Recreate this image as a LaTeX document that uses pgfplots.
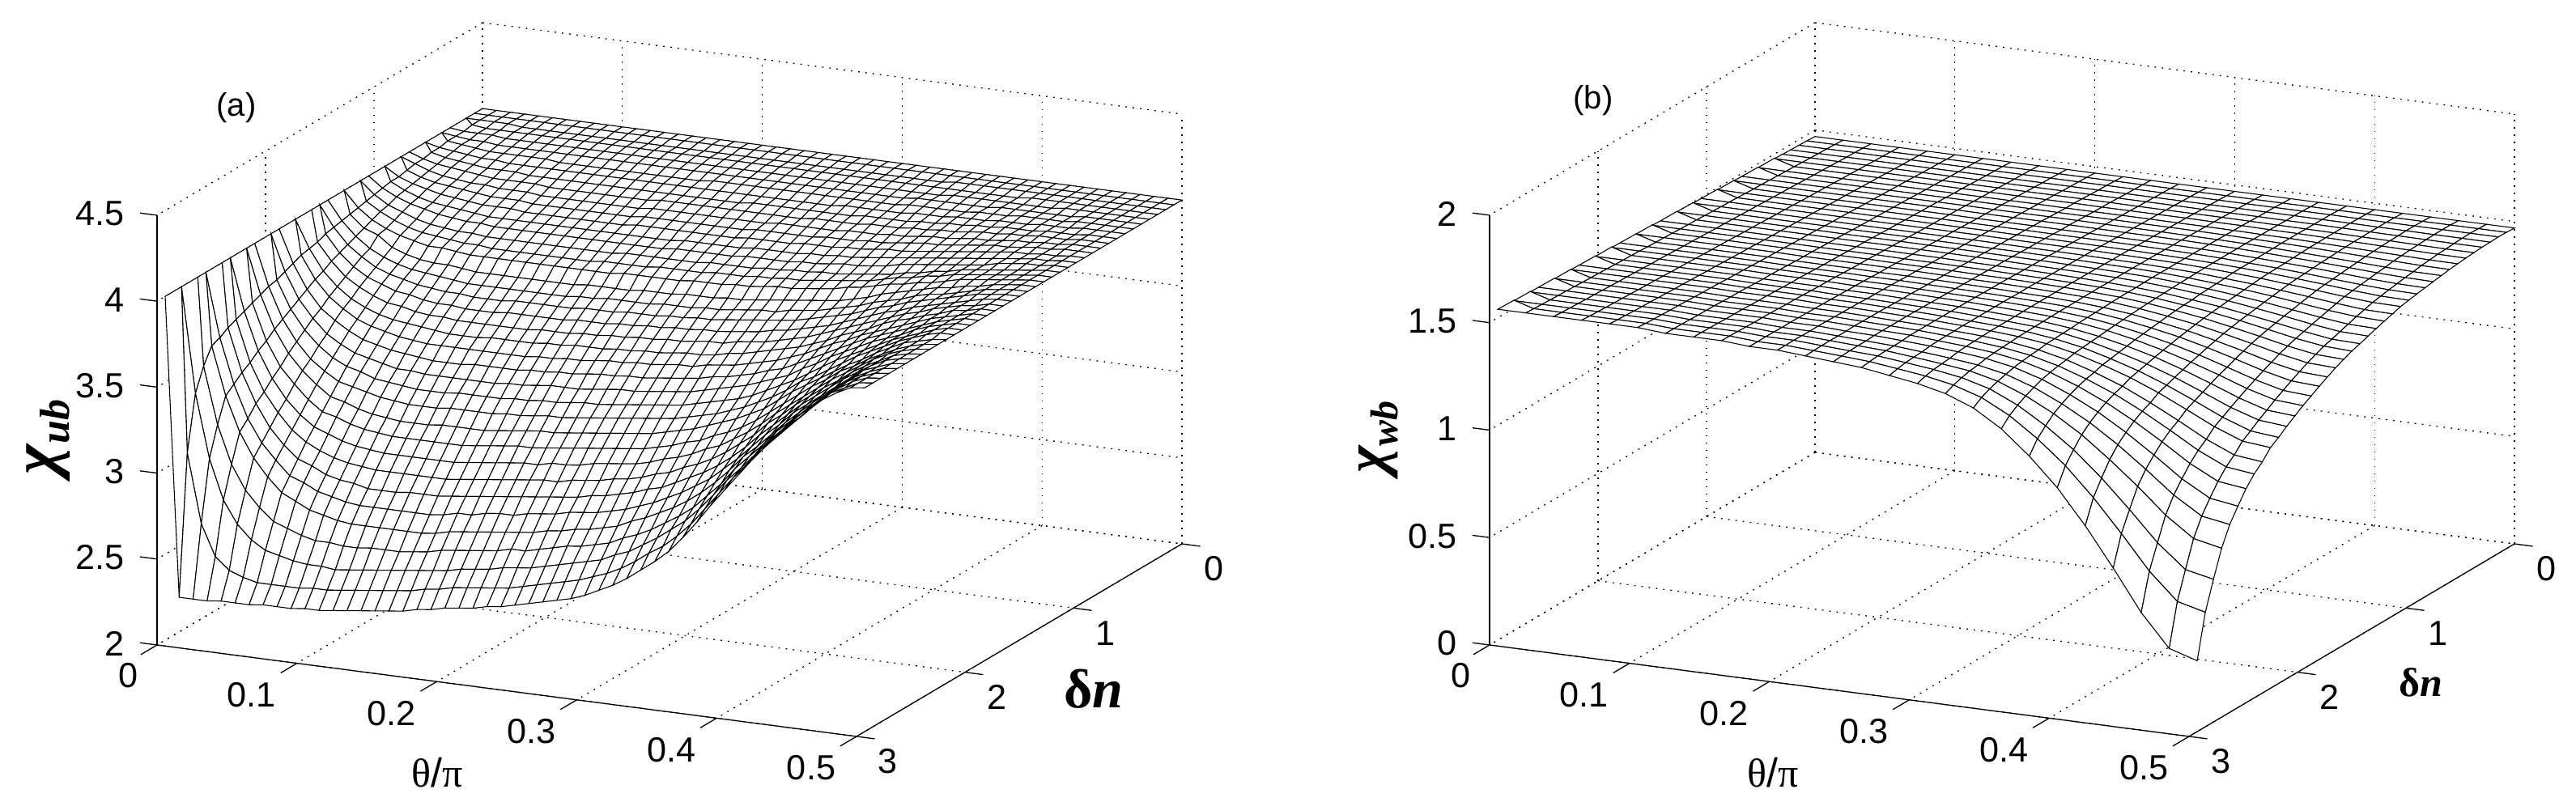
\documentclass[border=0pt]{standalone}
\usepackage{pgfplots}
\pgfplotsset{compat=1.18}
\usepackage{fontspec}
\setmainfont{Liberation Sans}
\newfontfamily\symb{Liberation Serif}
\newcommand{\tfont}{\fontsize{10.8}{12}\selectfont}
% 1 px of the reference = 0.25pt
\pgfplotsset{
  meshbox/.style={
    hide axis, clip=false,
    x={(432pt,-56.5pt)}, y={(-33.5pt,-19.83pt)},
    xmin=0, xmax=0.5, ymin=0, ymax=3,
  },
  whitemesh/.style={
    surf, shader=faceted, z buffer=none,
    colormap={w}{color=(white) color=(white)},
    faceted color=black, line width=0.27pt,
  },
}
\tikzset{
  griddot/.style={black, line width=0.33pt, dash pattern=on 0.45pt off 1.8pt},
  axline/.style={black, line width=0.33pt},
}
% #1 zmin, #2 zmax, #3 list of z ticks
\newcommand{\frameit}[3]{%
  \pgfplotsinvokeforeach{0,0.1,0.2,0.3,0.4,0.5}{
    \draw[griddot] (axis cs:##1,0,#1) -- (axis cs:##1,3,#1);
    \draw[griddot] (axis cs:##1,0,#1) -- (axis cs:##1,0,#2);
    \draw[axline] (axis cs:##1,3,#1) -- (axis cs:##1,3.15,#1);
  }
  \pgfplotsinvokeforeach{0,1,2,3}{
    \draw[griddot] (axis cs:0,##1,#1) -- (axis cs:0.5,##1,#1);
    \draw[griddot] (axis cs:0,##1,#1) -- (axis cs:0,##1,#2);
    \draw[axline] (axis cs:0.5,##1,#1) -- (axis cs:0.513,##1,#1);
    \node[font=\tfont] at (axis cs:0.5,##1,#1) [xshift=9.75pt,yshift=-7.75pt] {##1};
  }
  \pgfplotsinvokeforeach{#3}{
    \draw[griddot] (axis cs:0,0,##1) -- (axis cs:0,3,##1);
    \draw[griddot] (axis cs:0,0,##1) -- (axis cs:0.5,0,##1);
    \draw[axline] (axis cs:0,3,##1) -- (axis cs:-0.0122,3,##1);
    \node[font=\tfont,anchor=east] at (axis cs:0,3,##1) [xshift=-6.5pt,yshift=0.5pt] {##1};
  }
  \pgfplotsinvokeforeach{0.1,0.2,0.3,0.4,0.5}{
    \node[font=\tfont] at (axis cs:##1,3,#1) [xshift=-14pt,yshift=-9.75pt] {##1};
  }
  \node[font=\tfont] at (axis cs:0,3,#1) [xshift=-8.75pt,yshift=-9.5pt] {0};
  \draw[axline] (axis cs:0,3,#1) -- (axis cs:0.5,3,#1) -- (axis cs:0.5,0,#1);
  \draw[axline] (axis cs:0,3,#1) -- (axis cs:0,3,#2);
}
\begin{document}
\begin{tikzpicture}
\useasboundingbox (0,0) rectangle (795.5pt,247.5pt);
\begin{axis}[meshbox, at={(149pt,107.75pt)}, anchor=origin,
  z={(0,53.1pt)}, zmin=2, zmax=4.5]
\frameit{2}{4.5}{2,2.5,3,3.5,4,4.5}
\addplot3[whitemesh, mesh/cols=51] table[row sep=crcr, header=false,
  x expr={mod(\coordindex,51)*0.01}, y expr={floor(\coordindex/51)*0.075}, z index=0] {
4\\4\\4\\4\\4\\4\\4\\4\\4\\4\\4\\4\\4\\4\\4\\4\\4\\4\\4\\4\\4\\4\\4\\4\\4\\4\\4\\4\\4\\4\\4\\4\\4\\4\\4\\4\\4\\4\\4\\4\\4\\4\\4\\4\\4\\4\\4\\4\\4\\4\\4\\
4\\4\\4\\4\\4\\4\\4\\4\\4\\4\\4\\4\\4\\4\\4\\4\\4\\4\\4\\4\\4\\4\\4\\4\\4\\4\\4\\4\\4\\4\\4\\4\\4\\4\\4\\4\\4\\4\\4\\4\\4\\4\\4\\4\\4\\4\\4\\4\\4\\4\\4\\
4\\4\\4\\4\\3.99\\3.99\\3.99\\3.99\\3.99\\3.99\\3.99\\3.99\\3.99\\3.99\\3.99\\3.99\\3.99\\3.99\\3.99\\3.99\\3.99\\3.99\\3.99\\3.99\\3.99\\3.99\\3.99\\3.99\\3.99\\3.99\\3.99\\3.99\\3.99\\3.99\\3.99\\4\\4\\4\\4\\4\\4\\4\\4\\4\\4\\4\\4\\4\\4\\4\\4\\
4\\4\\3.99\\3.99\\3.99\\3.99\\3.99\\3.99\\3.99\\3.99\\3.99\\3.99\\3.99\\3.99\\3.99\\3.99\\3.99\\3.99\\3.99\\3.99\\3.99\\3.99\\3.99\\3.99\\3.99\\3.99\\3.99\\3.99\\3.99\\3.99\\3.99\\3.99\\3.99\\3.99\\3.99\\3.99\\3.99\\3.99\\3.99\\3.99\\3.99\\4\\4\\4\\4\\4\\4\\4\\4\\4\\4\\
4\\3.99\\3.99\\3.99\\3.98\\3.98\\3.98\\3.98\\3.98\\3.98\\3.98\\3.98\\3.98\\3.98\\3.98\\3.98\\3.98\\3.98\\3.98\\3.98\\3.98\\3.98\\3.98\\3.98\\3.98\\3.98\\3.98\\3.98\\3.98\\3.98\\3.98\\3.98\\3.98\\3.98\\3.98\\3.98\\3.99\\3.99\\3.99\\3.99\\3.99\\3.99\\3.99\\3.99\\4\\4\\4\\4\\4\\4\\4\\
4\\3.99\\3.98\\3.98\\3.97\\3.97\\3.97\\3.97\\3.97\\3.97\\3.97\\3.97\\3.97\\3.97\\3.97\\3.97\\3.97\\3.97\\3.97\\3.97\\3.97\\3.97\\3.97\\3.97\\3.97\\3.97\\3.97\\3.97\\3.97\\3.97\\3.97\\3.97\\3.97\\3.97\\3.98\\3.98\\3.98\\3.98\\3.98\\3.98\\3.99\\3.99\\3.99\\3.99\\3.99\\3.99\\4\\4\\4\\4\\4\\
4\\3.99\\3.98\\3.97\\3.96\\3.96\\3.96\\3.96\\3.96\\3.95\\3.95\\3.95\\3.95\\3.95\\3.95\\3.95\\3.95\\3.95\\3.95\\3.95\\3.96\\3.96\\3.96\\3.96\\3.96\\3.96\\3.96\\3.96\\3.96\\3.96\\3.96\\3.96\\3.96\\3.96\\3.97\\3.97\\3.97\\3.97\\3.97\\3.98\\3.98\\3.98\\3.99\\3.99\\3.99\\3.99\\4\\4\\4\\4\\4\\
4\\3.98\\3.97\\3.96\\3.95\\3.95\\3.94\\3.94\\3.94\\3.94\\3.94\\3.94\\3.94\\3.94\\3.94\\3.94\\3.94\\3.94\\3.94\\3.94\\3.94\\3.94\\3.94\\3.94\\3.94\\3.94\\3.94\\3.94\\3.94\\3.94\\3.95\\3.95\\3.95\\3.95\\3.95\\3.96\\3.96\\3.96\\3.97\\3.97\\3.97\\3.98\\3.98\\3.98\\3.99\\3.99\\3.99\\4\\4\\4\\4\\
4\\3.98\\3.96\\3.95\\3.94\\3.93\\3.93\\3.93\\3.92\\3.92\\3.92\\3.92\\3.92\\3.92\\3.92\\3.92\\3.92\\3.92\\3.92\\3.92\\3.92\\3.92\\3.92\\3.92\\3.93\\3.93\\3.93\\3.93\\3.93\\3.93\\3.93\\3.93\\3.94\\3.94\\3.94\\3.94\\3.95\\3.95\\3.96\\3.96\\3.97\\3.97\\3.98\\3.98\\3.98\\3.99\\3.99\\3.99\\4\\4\\4\\
4\\3.97\\3.95\\3.94\\3.93\\3.92\\3.91\\3.91\\3.91\\3.91\\3.90\\3.90\\3.90\\3.90\\3.90\\3.90\\3.90\\3.90\\3.91\\3.91\\3.91\\3.91\\3.91\\3.91\\3.91\\3.91\\3.91\\3.91\\3.91\\3.92\\3.92\\3.92\\3.92\\3.93\\3.93\\3.93\\3.94\\3.94\\3.95\\3.95\\3.96\\3.97\\3.97\\3.98\\3.98\\3.99\\3.99\\3.99\\4\\4\\4\\
4\\3.97\\3.94\\3.92\\3.91\\3.90\\3.90\\3.89\\3.89\\3.89\\3.88\\3.88\\3.88\\3.88\\3.88\\3.88\\3.88\\3.88\\3.89\\3.89\\3.89\\3.89\\3.89\\3.89\\3.89\\3.89\\3.89\\3.90\\3.90\\3.90\\3.90\\3.90\\3.91\\3.91\\3.91\\3.92\\3.92\\3.93\\3.94\\3.94\\3.95\\3.96\\3.96\\3.97\\3.98\\3.98\\3.99\\3.99\\4\\4\\4\\
4\\3.96\\3.93\\3.91\\3.90\\3.89\\3.88\\3.87\\3.87\\3.87\\3.86\\3.86\\3.86\\3.86\\3.86\\3.86\\3.86\\3.86\\3.87\\3.87\\3.87\\3.87\\3.87\\3.87\\3.87\\3.87\\3.88\\3.88\\3.88\\3.88\\3.88\\3.89\\3.89\\3.89\\3.90\\3.90\\3.91\\3.92\\3.93\\3.93\\3.94\\3.95\\3.96\\3.97\\3.97\\3.98\\3.99\\3.99\\4\\4\\4\\
4\\3.95\\3.92\\3.90\\3.88\\3.87\\3.86\\3.85\\3.85\\3.85\\3.84\\3.84\\3.84\\3.84\\3.84\\3.84\\3.84\\3.84\\3.85\\3.85\\3.85\\3.85\\3.85\\3.85\\3.85\\3.85\\3.86\\3.86\\3.86\\3.86\\3.87\\3.87\\3.87\\3.88\\3.88\\3.89\\3.90\\3.90\\3.91\\3.92\\3.93\\3.94\\3.95\\3.96\\3.97\\3.98\\3.98\\3.99\\3.99\\4\\4\\
4\\3.95\\3.91\\3.88\\3.86\\3.85\\3.84\\3.83\\3.82\\3.82\\3.82\\3.82\\3.82\\3.82\\3.82\\3.82\\3.82\\3.82\\3.82\\3.82\\3.82\\3.82\\3.83\\3.83\\3.83\\3.83\\3.83\\3.84\\3.84\\3.84\\3.84\\3.85\\3.85\\3.86\\3.86\\3.87\\3.88\\3.89\\3.90\\3.91\\3.92\\3.93\\3.94\\3.95\\3.96\\3.97\\3.98\\3.99\\3.99\\4\\4\\
4\\3.94\\3.90\\3.87\\3.85\\3.83\\3.82\\3.81\\3.81\\3.80\\3.80\\3.80\\3.80\\3.80\\3.80\\3.80\\3.80\\3.80\\3.80\\3.80\\3.80\\3.80\\3.81\\3.81\\3.81\\3.81\\3.81\\3.82\\3.82\\3.82\\3.82\\3.83\\3.83\\3.84\\3.85\\3.85\\3.86\\3.87\\3.89\\3.90\\3.91\\3.92\\3.93\\3.94\\3.95\\3.97\\3.98\\3.99\\3.99\\4\\4\\
4\\3.93\\3.88\\3.85\\3.82\\3.80\\3.79\\3.78\\3.78\\3.77\\3.77\\3.77\\3.77\\3.77\\3.77\\3.77\\3.77\\3.77\\3.77\\3.78\\3.78\\3.78\\3.78\\3.78\\3.78\\3.79\\3.79\\3.79\\3.79\\3.80\\3.80\\3.81\\3.81\\3.82\\3.82\\3.83\\3.84\\3.85\\3.86\\3.88\\3.89\\3.91\\3.92\\3.94\\3.95\\3.96\\3.97\\3.98\\3.99\\4\\4\\
4\\3.92\\3.87\\3.83\\3.80\\3.78\\3.77\\3.76\\3.75\\3.75\\3.74\\3.74\\3.74\\3.74\\3.74\\3.74\\3.74\\3.74\\3.75\\3.75\\3.75\\3.75\\3.76\\3.76\\3.76\\3.76\\3.77\\3.77\\3.77\\3.78\\3.78\\3.79\\3.79\\3.80\\3.81\\3.82\\3.83\\3.84\\3.86\\3.88\\3.89\\3.91\\3.92\\3.94\\3.95\\3.96\\3.97\\3.98\\3.99\\4\\4\\
4\\3.91\\3.85\\3.81\\3.78\\3.76\\3.74\\3.74\\3.73\\3.72\\3.72\\3.72\\3.72\\3.72\\3.72\\3.72\\3.72\\3.72\\3.72\\3.72\\3.73\\3.73\\3.73\\3.73\\3.73\\3.74\\3.74\\3.74\\3.75\\3.75\\3.76\\3.77\\3.77\\3.78\\3.79\\3.80\\3.82\\3.83\\3.85\\3.87\\3.88\\3.90\\3.91\\3.93\\3.95\\3.96\\3.97\\3.98\\3.99\\4\\4\\
4\\3.90\\3.83\\3.80\\3.74\\3.71\\3.69\\3.68\\3.68\\3.67\\3.66\\3.66\\3.66\\3.66\\3.66\\3.66\\3.66\\3.66\\3.67\\3.67\\3.67\\3.67\\3.68\\3.68\\3.68\\3.69\\3.69\\3.69\\3.70\\3.70\\3.71\\3.72\\3.73\\3.74\\3.75\\3.76\\3.77\\3.79\\3.81\\3.84\\3.86\\3.88\\3.90\\3.92\\3.93\\3.95\\3.96\\3.98\\3.99\\4\\4\\
4\\3.89\\3.81\\3.75\\3.71\\3.68\\3.66\\3.65\\3.64\\3.63\\3.62\\3.62\\3.62\\3.62\\3.62\\3.62\\3.62\\3.62\\3.63\\3.63\\3.64\\3.64\\3.64\\3.64\\3.65\\3.65\\3.65\\3.66\\3.66\\3.67\\3.68\\3.69\\3.69\\3.71\\3.72\\3.73\\3.75\\3.77\\3.79\\3.82\\3.84\\3.86\\3.89\\3.91\\3.92\\3.94\\3.96\\3.98\\3.99\\4\\4\\
4\\3.88\\3.79\\3.73\\3.68\\3.65\\3.63\\3.61\\3.60\\3.59\\3.59\\3.58\\3.58\\3.58\\3.59\\3.59\\3.59\\3.59\\3.59\\3.60\\3.60\\3.60\\3.61\\3.61\\3.61\\3.62\\3.62\\3.63\\3.63\\3.64\\3.65\\3.66\\3.67\\3.68\\3.69\\3.71\\3.73\\3.75\\3.77\\3.80\\3.83\\3.85\\3.88\\3.90\\3.92\\3.94\\3.96\\3.98\\3.99\\4\\4\\
4\\3.87\\3.77\\3.70\\3.65\\3.62\\3.59\\3.58\\3.56\\3.55\\3.55\\3.54\\3.54\\3.54\\3.55\\3.55\\3.55\\3.55\\3.55\\3.56\\3.56\\3.56\\3.57\\3.57\\3.58\\3.58\\3.59\\3.59\\3.60\\3.60\\3.61\\3.62\\3.63\\3.65\\3.66\\3.68\\3.70\\3.72\\3.75\\3.78\\3.81\\3.84\\3.86\\3.89\\3.91\\3.93\\3.95\\3.97\\3.99\\4\\4\\
4\\3.85\\3.75\\3.67\\3.62\\3.58\\3.55\\3.54\\3.52\\3.51\\3.51\\3.50\\3.50\\3.50\\3.50\\3.50\\3.50\\3.51\\3.51\\3.51\\3.52\\3.52\\3.53\\3.53\\3.54\\3.54\\3.55\\3.55\\3.56\\3.57\\3.57\\3.59\\3.60\\3.61\\3.63\\3.65\\3.67\\3.70\\3.73\\3.76\\3.79\\3.82\\3.85\\3.88\\3.90\\3.93\\3.95\\3.97\\3.98\\4\\4\\
4\\3.84\\3.72\\3.64\\3.58\\3.54\\3.51\\3.49\\3.48\\3.47\\3.46\\3.45\\3.45\\3.45\\3.46\\3.46\\3.46\\3.46\\3.47\\3.47\\3.48\\3.48\\3.48\\3.49\\3.49\\3.50\\3.50\\3.51\\3.52\\3.52\\3.53\\3.55\\3.56\\3.58\\3.60\\3.62\\3.64\\3.67\\3.70\\3.74\\3.77\\3.80\\3.84\\3.87\\3.89\\3.92\\3.94\\3.97\\3.98\\4\\4\\
4\\3.83\\3.70\\3.61\\3.55\\3.50\\3.47\\3.45\\3.43\\3.42\\3.41\\3.41\\3.41\\3.41\\3.41\\3.41\\3.41\\3.41\\3.42\\3.42\\3.43\\3.43\\3.44\\3.45\\3.45\\3.46\\3.46\\3.47\\3.48\\3.48\\3.50\\3.51\\3.52\\3.54\\3.56\\3.58\\3.61\\3.64\\3.68\\3.72\\3.75\\3.79\\3.82\\3.85\\3.88\\3.91\\3.94\\3.96\\3.98\\4\\4\\
4\\3.81\\3.67\\3.57\\3.51\\3.46\\3.42\\3.40\\3.38\\3.37\\3.36\\3.35\\3.35\\3.35\\3.36\\3.36\\3.36\\3.36\\3.37\\3.37\\3.38\\3.38\\3.39\\3.40\\3.40\\3.41\\3.41\\3.42\\3.43\\3.44\\3.45\\3.47\\3.48\\3.50\\3.52\\3.55\\3.57\\3.61\\3.65\\3.69\\3.73\\3.77\\3.81\\3.84\\3.87\\3.90\\3.93\\3.96\\3.98\\4\\4\\
4\\3.79\\3.64\\3.54\\3.46\\3.41\\3.37\\3.35\\3.33\\3.31\\3.31\\3.30\\3.30\\3.30\\3.30\\3.30\\3.30\\3.31\\3.31\\3.32\\3.33\\3.33\\3.33\\3.34\\3.35\\3.36\\3.36\\3.37\\3.38\\3.39\\3.40\\3.42\\3.44\\3.46\\3.48\\3.51\\3.54\\3.57\\3.62\\3.66\\3.71\\3.75\\3.79\\3.83\\3.86\\3.89\\3.93\\3.96\\3.98\\4\\4\\
4\\3.77\\3.61\\3.50\\3.42\\3.36\\3.32\\3.30\\3.27\\3.26\\3.25\\3.24\\3.24\\3.24\\3.25\\3.25\\3.25\\3.25\\3.26\\3.26\\3.27\\3.27\\3.28\\3.29\\3.29\\3.30\\3.31\\3.32\\3.33\\3.34\\3.35\\3.37\\3.39\\3.41\\3.43\\3.46\\3.50\\3.54\\3.58\\3.63\\3.68\\3.73\\3.77\\3.81\\3.85\\3.89\\3.92\\3.95\\3.98\\4\\4\\
4\\3.76\\3.58\\3.46\\3.37\\3.31\\3.26\\3.24\\3.22\\3.20\\3.19\\3.18\\3.18\\3.18\\3.19\\3.19\\3.19\\3.19\\3.20\\3.20\\3.21\\3.22\\3.22\\3.23\\3.24\\3.25\\3.26\\3.27\\3.28\\3.29\\3.30\\3.32\\3.34\\3.36\\3.39\\3.42\\3.46\\3.50\\3.55\\3.61\\3.65\\3.70\\3.75\\3.80\\3.84\\3.88\\3.92\\3.95\\3.98\\4\\4\\
4\\3.74\\3.55\\3.42\\3.33\\3.26\\3.20\\3.18\\3.15\\3.13\\3.12\\3.11\\3.11\\3.11\\3.12\\3.12\\3.12\\3.12\\3.13\\3.14\\3.15\\3.16\\3.16\\3.17\\3.18\\3.19\\3.20\\3.21\\3.22\\3.23\\3.25\\3.27\\3.29\\3.32\\3.35\\3.38\\3.42\\3.46\\3.52\\3.58\\3.63\\3.68\\3.73\\3.78\\3.82\\3.87\\3.91\\3.95\\3.97\\3.99\\4\\
4\\3.72\\3.51\\3.37\\3.28\\3.20\\3.14\\3.12\\3.09\\3.07\\3.06\\3.05\\3.05\\3.05\\3.05\\3.05\\3.05\\3.06\\3.07\\3.08\\3.09\\3.09\\3.10\\3.11\\3.12\\3.13\\3.14\\3.15\\3.16\\3.17\\3.19\\3.21\\3.24\\3.26\\3.30\\3.33\\3.37\\3.42\\3.48\\3.54\\3.60\\3.66\\3.71\\3.77\\3.81\\3.86\\3.90\\3.94\\3.97\\3.99\\4\\
4\\3.70\\3.48\\3.33\\3.22\\3.14\\3.08\\3.05\\3.02\\3.00\\2.99\\2.98\\2.98\\2.98\\2.98\\2.98\\2.98\\2.99\\3.00\\3.01\\3.02\\3.03\\3.03\\3.05\\3.05\\3.06\\3.08\\3.09\\3.10\\3.11\\3.13\\3.16\\3.18\\3.21\\3.25\\3.28\\3.33\\3.38\\3.44\\3.51\\3.57\\3.63\\3.69\\3.75\\3.80\\3.85\\3.90\\3.94\\3.97\\3.99\\4\\
4\\3.68\\3.44\\3.28\\3.17\\3.08\\3.02\\2.98\\2.95\\2.93\\2.92\\2.91\\2.91\\2.91\\2.91\\2.91\\2.91\\2.92\\2.93\\2.94\\2.95\\2.96\\2.97\\2.98\\2.98\\3.00\\3.01\\3.02\\3.04\\3.05\\3.07\\3.10\\3.12\\3.16\\3.19\\3.23\\3.28\\3.34\\3.40\\3.48\\3.54\\3.61\\3.67\\3.73\\3.78\\3.84\\3.89\\3.93\\3.97\\3.99\\4\\
4\\3.66\\3.41\\3.24\\3.11\\3.02\\2.95\\2.92\\2.88\\2.86\\2.85\\2.83\\2.83\\2.83\\2.84\\2.84\\2.84\\2.85\\2.86\\2.87\\2.88\\2.89\\2.90\\2.91\\2.92\\2.93\\2.94\\2.96\\2.97\\2.99\\3.01\\3.04\\3.06\\3.10\\3.14\\3.18\\3.23\\3.29\\3.36\\3.44\\3.51\\3.58\\3.65\\3.71\\3.77\\3.83\\3.88\\3.93\\3.97\\3.99\\4\\
4\\3.63\\3.37\\3.18\\3.05\\2.96\\2.88\\2.85\\2.81\\2.79\\2.77\\2.76\\2.76\\2.76\\2.76\\2.76\\2.76\\2.77\\2.79\\2.79\\2.81\\2.82\\2.82\\2.84\\2.85\\2.86\\2.88\\2.89\\2.90\\2.92\\2.94\\2.97\\3.00\\3.04\\3.08\\3.13\\3.18\\3.25\\3.32\\3.40\\3.48\\3.55\\3.63\\3.69\\3.75\\3.81\\3.87\\3.93\\3.96\\3.99\\4\\
4\\3.61\\3.33\\3.13\\2.99\\2.89\\2.81\\2.77\\2.73\\2.71\\2.69\\2.68\\2.68\\2.68\\2.68\\2.68\\2.68\\2.69\\2.71\\2.72\\2.73\\2.74\\2.75\\2.76\\2.77\\2.79\\2.80\\2.82\\2.83\\2.85\\2.87\\2.91\\2.94\\2.98\\3.02\\3.07\\3.13\\3.20\\3.28\\3.37\\3.44\\3.52\\3.60\\3.67\\3.74\\3.80\\3.87\\3.92\\3.96\\3.99\\4\\
4\\3.52\\3.19\\2.97\\2.83\\2.74\\2.67\\2.64\\2.61\\2.59\\2.59\\2.58\\2.58\\2.59\\2.59\\2.59\\2.60\\2.61\\2.63\\2.64\\2.65\\2.66\\2.67\\2.69\\2.69\\2.71\\2.73\\2.75\\2.76\\2.78\\2.80\\2.84\\2.87\\2.91\\2.96\\3.01\\3.07\\3.15\\3.23\\3.33\\3.41\\3.49\\3.58\\3.65\\3.72\\3.79\\3.86\\3.92\\3.96\\3.99\\4\\
4\\3.39\\3.02\\2.79\\2.66\\2.58\\2.53\\2.51\\2.49\\2.48\\2.48\\2.47\\2.48\\2.49\\2.50\\2.51\\2.52\\2.53\\2.54\\2.55\\2.57\\2.58\\2.59\\2.61\\2.62\\2.63\\2.65\\2.67\\2.69\\2.71\\2.73\\2.77\\2.80\\2.85\\2.90\\2.96\\3.02\\3.10\\3.19\\3.29\\3.37\\3.46\\3.55\\3.63\\3.71\\3.78\\3.85\\3.91\\3.96\\3.99\\4\\
4\\3.07\\2.67\\2.49\\2.42\\2.39\\2.37\\2.37\\2.37\\2.37\\2.38\\2.38\\2.39\\2.40\\2.41\\2.42\\2.43\\2.44\\2.46\\2.47\\2.49\\2.50\\2.51\\2.52\\2.53\\2.55\\2.57\\2.59\\2.61\\2.63\\2.66\\2.69\\2.73\\2.78\\2.84\\2.89\\2.96\\3.04\\3.14\\3.24\\3.34\\3.43\\3.53\\3.61\\3.69\\3.76\\3.84\\3.91\\3.95\\3.99\\4\\
4\\2.26\\2.26\\2.26\\2.27\\2.27\\2.27\\2.28\\2.28\\2.28\\2.29\\2.29\\2.30\\2.31\\2.32\\2.33\\2.34\\2.35\\2.37\\2.38\\2.40\\2.41\\2.42\\2.44\\2.45\\2.47\\2.49\\2.51\\2.53\\2.55\\2.58\\2.62\\2.66\\2.71\\2.77\\2.83\\2.90\\2.99\\3.09\\3.20\\3.30\\3.40\\3.50\\3.59\\3.67\\3.75\\3.83\\3.90\\3.95\\3.99\\4\\
};
\end{axis}
\begin{axis}[meshbox, at={(560.5pt,107.75pt)}, anchor=origin,
  z={(0,66.38pt)}, zmin=0, zmax=2]
\frameit{0}{2}{0,0.5,1,1.5,2}
\addplot3[whitemesh, mesh/cols=26] table[row sep=crcr, header=false,
  x expr={mod(\coordindex,26)*0.02}, y expr={floor(\coordindex/26)*0.075}, z index=0] {
1.47\\1.47\\1.47\\1.47\\1.47\\1.47\\1.47\\1.47\\1.47\\1.47\\1.47\\1.47\\1.47\\1.47\\1.47\\1.47\\1.47\\1.47\\1.47\\1.47\\1.47\\1.47\\1.47\\1.47\\1.47\\1.47\\
1.472\\1.472\\1.472\\1.472\\1.472\\1.472\\1.472\\1.472\\1.472\\1.472\\1.472\\1.472\\1.472\\1.472\\1.472\\1.472\\1.472\\1.472\\1.472\\1.472\\1.472\\1.472\\1.472\\1.472\\1.472\\1.472\\
1.474\\1.474\\1.474\\1.474\\1.474\\1.474\\1.474\\1.474\\1.474\\1.474\\1.474\\1.474\\1.474\\1.474\\1.474\\1.474\\1.474\\1.474\\1.474\\1.474\\1.473\\1.473\\1.473\\1.473\\1.473\\1.473\\
1.475\\1.475\\1.475\\1.475\\1.475\\1.475\\1.475\\1.475\\1.475\\1.475\\1.475\\1.475\\1.475\\1.475\\1.475\\1.475\\1.475\\1.475\\1.475\\1.474\\1.474\\1.473\\1.473\\1.472\\1.472\\1.471\\
1.477\\1.477\\1.477\\1.477\\1.477\\1.477\\1.477\\1.477\\1.477\\1.477\\1.477\\1.477\\1.477\\1.477\\1.477\\1.476\\1.476\\1.476\\1.475\\1.475\\1.474\\1.473\\1.472\\1.471\\1.470\\1.470\\
1.479\\1.479\\1.479\\1.479\\1.479\\1.479\\1.479\\1.479\\1.479\\1.479\\1.479\\1.479\\1.479\\1.478\\1.478\\1.478\\1.478\\1.477\\1.476\\1.475\\1.474\\1.472\\1.471\\1.469\\1.467\\1.467\\
1.481\\1.481\\1.481\\1.481\\1.481\\1.481\\1.481\\1.481\\1.481\\1.481\\1.481\\1.481\\1.480\\1.480\\1.480\\1.480\\1.479\\1.479\\1.477\\1.476\\1.474\\1.472\\1.469\\1.467\\1.465\\1.464\\
1.482\\1.482\\1.482\\1.482\\1.482\\1.482\\1.482\\1.482\\1.482\\1.482\\1.482\\1.481\\1.481\\1.481\\1.481\\1.480\\1.480\\1.479\\1.477\\1.476\\1.473\\1.470\\1.467\\1.464\\1.461\\1.460\\
1.484\\1.484\\1.484\\1.484\\1.484\\1.484\\1.484\\1.484\\1.484\\1.484\\1.484\\1.483\\1.483\\1.483\\1.482\\1.482\\1.481\\1.480\\1.478\\1.476\\1.473\\1.469\\1.465\\1.461\\1.457\\1.456\\
1.486\\1.486\\1.486\\1.486\\1.486\\1.486\\1.486\\1.486\\1.486\\1.485\\1.485\\1.485\\1.485\\1.484\\1.484\\1.483\\1.482\\1.481\\1.479\\1.475\\1.471\\1.466\\1.461\\1.455\\1.451\\1.450\\
1.488\\1.488\\1.488\\1.488\\1.488\\1.488\\1.488\\1.488\\1.488\\1.487\\1.487\\1.487\\1.487\\1.486\\1.485\\1.485\\1.484\\1.482\\1.479\\1.475\\1.470\\1.465\\1.458\\1.451\\1.446\\1.444\\
1.489\\1.489\\1.489\\1.489\\1.489\\1.489\\1.489\\1.489\\1.489\\1.488\\1.488\\1.488\\1.487\\1.487\\1.486\\1.485\\1.484\\1.482\\1.479\\1.474\\1.468\\1.462\\1.454\\1.446\\1.440\\1.438\\
1.491\\1.491\\1.491\\1.491\\1.491\\1.491\\1.491\\1.491\\1.491\\1.490\\1.490\\1.490\\1.489\\1.489\\1.488\\1.487\\1.485\\1.483\\1.479\\1.473\\1.467\\1.459\\1.450\\1.441\\1.434\\1.432\\
1.493\\1.493\\1.493\\1.493\\1.493\\1.493\\1.492\\1.492\\1.492\\1.492\\1.492\\1.491\\1.491\\1.490\\1.489\\1.488\\1.486\\1.483\\1.479\\1.473\\1.466\\1.457\\1.447\\1.436\\1.427\\1.425\\
1.495\\1.495\\1.495\\1.495\\1.495\\1.495\\1.494\\1.494\\1.494\\1.494\\1.494\\1.493\\1.492\\1.492\\1.491\\1.489\\1.487\\1.484\\1.479\\1.472\\1.464\\1.453\\1.442\\1.430\\1.420\\1.418\\
1.496\\1.496\\1.496\\1.496\\1.496\\1.496\\1.495\\1.495\\1.495\\1.495\\1.495\\1.494\\1.493\\1.492\\1.491\\1.489\\1.487\\1.483\\1.478\\1.469\\1.460\\1.448\\1.435\\1.421\\1.409\\1.406\\
1.498\\1.498\\1.498\\1.498\\1.498\\1.498\\1.497\\1.497\\1.497\\1.496\\1.496\\1.495\\1.495\\1.494\\1.492\\1.490\\1.488\\1.484\\1.477\\1.467\\1.456\\1.443\\1.427\\1.411\\1.399\\1.395\\
1.500\\1.500\\1.500\\1.500\\1.500\\1.500\\1.499\\1.499\\1.499\\1.498\\1.498\\1.497\\1.496\\1.495\\1.493\\1.491\\1.488\\1.484\\1.476\\1.465\\1.452\\1.437\\1.419\\1.401\\1.386\\1.383\\
1.502\\1.502\\1.502\\1.502\\1.502\\1.502\\1.501\\1.501\\1.501\\1.500\\1.500\\1.499\\1.498\\1.496\\1.494\\1.492\\1.489\\1.484\\1.475\\1.463\\1.449\\1.431\\1.412\\1.391\\1.374\\1.370\\
1.503\\1.503\\1.503\\1.503\\1.503\\1.503\\1.502\\1.502\\1.502\\1.501\\1.501\\1.499\\1.498\\1.497\\1.495\\1.492\\1.488\\1.482\\1.473\\1.459\\1.444\\1.424\\1.403\\1.380\\1.361\\1.357\\
1.505\\1.505\\1.505\\1.505\\1.505\\1.505\\1.504\\1.504\\1.504\\1.502\\1.502\\1.501\\1.500\\1.498\\1.496\\1.493\\1.489\\1.483\\1.472\\1.457\\1.440\\1.419\\1.395\\1.370\\1.351\\1.345\\
1.507\\1.507\\1.507\\1.507\\1.507\\1.507\\1.506\\1.506\\1.506\\1.504\\1.504\\1.503\\1.501\\1.500\\1.497\\1.494\\1.489\\1.482\\1.470\\1.454\\1.435\\1.411\\1.385\\1.357\\1.335\\1.329\\
1.509\\1.509\\1.509\\1.509\\1.509\\1.509\\1.507\\1.507\\1.507\\1.506\\1.506\\1.504\\1.502\\1.501\\1.498\\1.494\\1.489\\1.481\\1.468\\1.450\\1.429\\1.403\\1.374\\1.343\\1.318\\1.312\\
1.510\\1.510\\1.510\\1.510\\1.510\\1.510\\1.508\\1.508\\1.508\\1.506\\1.506\\1.505\\1.503\\1.501\\1.497\\1.494\\1.488\\1.479\\1.465\\1.445\\1.422\\1.393\\1.361\\1.326\\1.299\\1.292\\
1.512\\1.512\\1.512\\1.512\\1.512\\1.512\\1.510\\1.510\\1.510\\1.508\\1.508\\1.506\\1.504\\1.502\\1.498\\1.494\\1.488\\1.478\\1.462\\1.440\\1.415\\1.383\\1.347\\1.309\\1.279\\1.271\\
1.514\\1.514\\1.514\\1.514\\1.514\\1.514\\1.512\\1.512\\1.512\\1.510\\1.510\\1.507\\1.505\\1.503\\1.499\\1.494\\1.488\\1.477\\1.459\\1.435\\1.406\\1.371\\1.331\\1.290\\1.257\\1.248\\
1.516\\1.516\\1.516\\1.516\\1.516\\1.516\\1.514\\1.514\\1.514\\1.511\\1.511\\1.509\\1.506\\1.504\\1.499\\1.494\\1.487\\1.475\\1.456\\1.430\\1.398\\1.360\\1.317\\1.271\\1.235\\1.226\\
1.517\\1.517\\1.517\\1.517\\1.517\\1.517\\1.514\\1.514\\1.514\\1.512\\1.512\\1.509\\1.507\\1.504\\1.499\\1.493\\1.486\\1.472\\1.451\\1.423\\1.389\\1.347\\1.300\\1.250\\1.210\\1.200\\
1.519\\1.519\\1.519\\1.519\\1.519\\1.519\\1.516\\1.516\\1.516\\1.513\\1.513\\1.510\\1.508\\1.505\\1.499\\1.493\\1.485\\1.471\\1.448\\1.416\\1.379\\1.334\\1.282\\1.228\\1.186\\1.174\\
1.521\\1.521\\1.521\\1.521\\1.521\\1.521\\1.518\\1.518\\1.518\\1.515\\1.515\\1.512\\1.509\\1.505\\1.499\\1.493\\1.484\\1.468\\1.444\\1.409\\1.369\\1.320\\1.264\\1.205\\1.158\\1.145\\
1.523\\1.523\\1.523\\1.523\\1.523\\1.523\\1.520\\1.520\\1.520\\1.516\\1.516\\1.513\\1.510\\1.506\\1.500\\1.493\\1.483\\1.467\\1.440\\1.403\\1.360\\1.307\\1.246\\1.183\\1.133\\1.120\\
1.524\\1.524\\1.524\\1.524\\1.524\\1.524\\1.520\\1.520\\1.520\\1.517\\1.517\\1.513\\1.509\\1.506\\1.498\\1.491\\1.480\\1.461\\1.432\\1.391\\1.343\\1.283\\1.217\\1.147\\1.091\\1.076\\
1.526\\1.526\\1.526\\1.526\\1.526\\1.526\\1.522\\1.522\\1.522\\1.518\\1.518\\1.514\\1.510\\1.506\\1.498\\1.490\\1.478\\1.458\\1.426\\1.382\\1.330\\1.266\\1.194\\1.118\\1.058\\1.042\\
1.528\\1.528\\1.528\\1.528\\1.528\\1.528\\1.524\\1.524\\1.524\\1.519\\1.519\\1.515\\1.510\\1.506\\1.497\\1.488\\1.475\\1.453\\1.418\\1.370\\1.312\\1.242\\1.163\\1.079\\1.013\\0.996\\
1.530\\1.530\\1.530\\1.530\\1.530\\1.530\\1.525\\1.525\\1.525\\1.520\\1.520\\1.513\\1.510\\1.503\\1.495\\1.485\\1.471\\1.447\\1.408\\1.354\\1.290\\1.212\\1.124\\1.030\\0.957\\0.937\\
1.531\\1.531\\1.531\\1.531\\1.531\\1.531\\1.525\\1.525\\1.525\\1.519\\1.519\\1.513\\1.507\\1.501\\1.490\\1.478\\1.463\\1.437\\1.393\\1.334\\1.263\\1.177\\1.080\\0.977\\0.896\\0.874\\
1.533\\1.533\\1.533\\1.533\\1.533\\1.533\\1.527\\1.527\\1.527\\1.520\\1.520\\1.514\\1.507\\1.501\\1.488\\1.474\\1.458\\1.427\\1.376\\1.310\\1.229\\1.130\\1.023\\0.906\\0.814\\0.786\\
1.535\\1.535\\1.535\\1.535\\1.535\\1.535\\1.528\\1.528\\1.528\\1.521\\1.521\\1.513\\1.506\\1.499\\1.485\\1.470\\1.449\\1.414\\1.355\\1.276\\1.182\\1.067\\0.937\\0.800\\0.692\\0.664\\
1.537\\1.537\\1.537\\1.537\\1.537\\1.537\\1.529\\1.529\\1.529\\1.520\\1.520\\1.512\\1.504\\1.495\\1.479\\1.462\\1.437\\1.396\\1.329\\1.238\\1.130\\0.998\\0.848\\0.690\\0.566\\0.533\\
1.54\\1.54\\1.54\\1.54\\1.54\\1.54\\1.53\\1.53\\1.53\\1.52\\1.52\\1.51\\1.50\\1.49\\1.47\\1.45\\1.42\\1.37\\1.29\\1.18\\1.05\\0.89\\0.71\\0.52\\0.37\\0.33\\
};
\end{axis}
\begin{scope}[x=0.25pt,y=0.25pt]
\node[font=\fontsize{10}{12}\selectfont] at (292,857) {(a)};
\node[font=\fontsize{10}{12}\selectfont] at (1968,866) {(b)};
\node[font=\fontsize{12.5}{14}\selectfont] at (540,35) {{\symb θ}/{\symb π}};
\node[font=\fontsize{12.5}{14}\selectfont] at (2190,35) {{\symb θ}/{\symb π}};
\node[rotate=90,font=\fontsize{20}{22}\selectfont\symb\bfseries\itshape] at (60,450) {χ\raisebox{-0.2em}{\fontsize{13}{14}\selectfont ub}};
\node[rotate=90,font=\fontsize{18}{20}\selectfont\symb\bfseries\itshape] at (1703,450) {χ\raisebox{-0.2em}{\fontsize{12}{14}\selectfont wb}};
\node[font=\fontsize{17}{20}\selectfont\symb\bfseries] at (1351,139) {δ\textit{n}};
\node[font=\fontsize{12.5}{14}\selectfont\symb\bfseries] at (2990,147) {δ\textit{n}};
\end{scope}
\end{tikzpicture}
\end{document}
